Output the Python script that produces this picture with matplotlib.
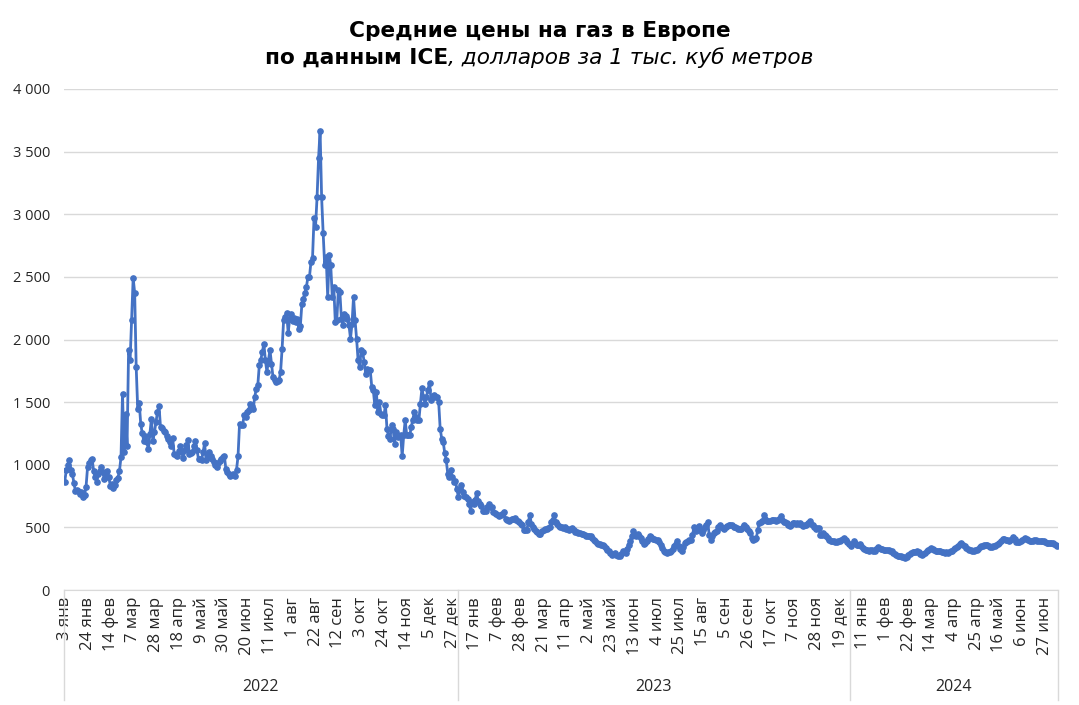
import matplotlib
matplotlib.use('Agg')
import matplotlib.pyplot as plt
from matplotlib.lines import Line2D
import pandas as pd

# daily ICE prices, USD per 1000 m3 (business days, one list per year, month by month)
values_2022 = [
    866, 957, 1000, 1037, 960, 925, 858, 790, 800, 790, 765, 780, 745, 760, 823, 980, 1010, 1037, 1045, 952, 900,
    866, 925, 950, 980, 940, 885, 900, 952, 900, 830, 850, 818, 840, 880, 898, 952, 1060, 1567, 1100, 1406,
    1152, 1915, 1834, 2155, 2490, 2374, 1780, 1447, 1492, 1326, 1250, 1193, 1233, 1180, 1126, 1246, 1366, 1193, 1260, 1340, 1420, 1473, 1300,
    1290, 1270, 1260, 1230, 1206, 1180, 1152, 1214, 1086, 1080, 1072, 1110, 1152, 1100, 1053, 1120, 1160, 1198, 1086, 1090, 1099,
    1150, 1193, 1120, 1045, 1045, 1037, 1100, 1171, 1037, 1060, 1099, 1070, 1045, 1020, 1000, 984, 1010, 1032, 1045, 1060, 1072, 965,
    940, 930, 912, 915, 930, 912, 960, 1067, 1328, 1320, 1314, 1394, 1380, 1420, 1434, 1488, 1470, 1448, 1541, 1608, 1634, 1794,
    1840, 1900, 1967, 1834, 1741, 1830, 1919, 1807, 1700, 1680, 1661, 1665, 1674, 1741, 1927, 2154, 2180, 2212, 2053, 2167, 2202,
    2149, 2170, 2140, 2160, 2087, 2106, 2282, 2327, 2370, 2420, 2500, 2500, 2620, 2647, 2967, 2900, 3135, 3452, 3668, 3135, 2852, 2594, 2660,
    2340, 2674, 2594, 2340, 2420, 2140, 2154, 2394, 2380, 2167, 2114, 2207, 2190, 2167, 2114, 2007, 2127, 2340, 2154, 2007, 1834, 1781,
    1914, 1900, 1820, 1727, 1767, 1760, 1754, 1621, 1594, 1474, 1581, 1421, 1501, 1408, 1400, 1394, 1474, 1288, 1230, 1208, 1314,
    1289, 1168, 1262, 1222, 1230, 1235, 1067, 1235, 1356, 1235, 1240, 1235, 1302, 1360, 1422, 1380, 1356, 1356, 1489, 1610, 1543, 1489,
    1543, 1600, 1655, 1516, 1540, 1556, 1543, 1543, 1503, 1289, 1209, 1182, 1094, 1035, 928, 901, 955, 901, 861, 874, 807,
]
values_2023 = [
    740, 807, 842, 781, 754, 740, 727, 690, 634, 700, 687, 720, 773, 714, 690, 674, 634, 634, 634, 660, 687, 660,
    660, 620, 615, 607, 600, 594, 600, 607, 620, 567, 560, 553, 560, 567, 570, 575, 560, 550, 540, 530,
    521, 479, 480, 479, 540, 602, 527, 500, 487, 475, 460, 450, 447, 473, 480, 487, 490, 495, 500, 540, 560, 602, 540,
    530, 513, 500, 505, 495, 500, 490, 485, 481, 490, 495, 480, 463, 460, 458, 455, 450, 445, 441, 435,
    432, 430, 428, 415, 401, 390, 375, 370, 365, 361, 361, 350, 335, 322, 308, 295, 281, 290, 295, 280, 268, 268, 290,
    308, 300, 295, 330, 361, 388, 430, 473, 440, 428, 447, 430, 415, 390, 367, 375, 388, 405, 428, 420, 409, 405,
    403, 401, 380, 361, 335, 313, 305, 295, 300, 305, 308, 330, 348, 370, 388, 348, 325, 308, 340, 375, 385,
    393, 398, 401, 440, 500, 468, 490, 508, 480, 455, 480, 500, 520, 543, 441, 401, 430, 455, 460, 468, 500, 521, 505,
    495, 489, 500, 508, 515, 520, 521, 505, 500, 495, 489, 489, 489, 500, 521, 505, 489, 470, 455, 415, 401,
    405, 415, 481, 535, 540, 553, 596, 570, 548, 550, 553, 555, 561, 555, 548, 560, 569, 588, 560, 543, 540, 535,
    520, 508, 520, 535, 535, 530, 535, 530, 535, 520, 508, 515, 521, 535, 548, 530, 516, 500, 489, 492, 495, 441,
    441, 455, 440, 428, 415, 401, 395, 393, 388, 383, 385, 388, 395, 401, 410, 415, 400, 383, 370,
]
values_2024 = [
    348, 370, 388, 375, 356, 360, 367, 350, 335, 330, 321, 318, 313, 318, 321, 315, 313, 325, 340, 335, 329, 325, 321,
    321, 321, 318, 315, 308, 295, 285, 281, 275, 268, 270, 265, 260, 255, 260, 281, 290, 295, 303, 300, 305,
    308, 300, 290, 281, 285, 295, 308, 320, 330, 335, 325, 318, 313, 315, 310, 308, 305, 300, 295, 300, 295,
    300, 308, 315, 325, 335, 340, 355, 365, 375, 360, 348, 335, 325, 321, 318, 313, 315, 318, 321, 330, 340, 348,
    355, 361, 358, 356, 350, 340, 345, 348, 350, 360, 370, 375, 390, 409, 405, 401, 398, 393, 400, 410, 420, 405, 383,
    383, 386, 388, 400, 410, 415, 408, 401, 395, 388, 395, 401, 398, 395, 393, 390, 388, 388, 385, 375,
    375, 378, 375, 372, 367, 360, 353,
]
years = ['2022', '2023', '2024']
months_ru = ['янв', 'фев', 'мар', 'апр', 'май', 'июн', 'июл', 'авг', 'сен', 'окт', 'ноя', 'дек']
holidays = ['2022-12-26', '2023-12-25', '2023-12-26']

title_line1 = "Средние цены на газ в Европе"
title_bold = "по данным ICE"
title_italic = ", долларов за 1 тыс. куб метров"

dates = pd.bdate_range('2022-01-03', '2024-07-09')
dates = dates[~dates.isin(pd.to_datetime(holidays))]
values = values_2022 + values_2023 + values_2024
n = len(dates)

W, H = 1079, 705
fig = plt.figure(figsize=(W / 100, H / 100), dpi=100)
ax = fig.add_axes([64 / W, 1 - 590 / H, (1058 - 64) / W, (590 - 89) / H])

blue = '#4472C4'
grid_c = '#D9D9D9'
ax.plot(range(len(values)), values, color=blue, lw=2.0, marker='o', ms=3.8, zorder=3)

ax.set_xlim(-0.5, n - 0.5)
ax.set_ylim(0, 4000)
ax.set_yticks(range(0, 4001, 500))
ax.set_yticklabels([f"{v:,}".replace(',', ' ') for v in range(0, 4001, 500)],
                   fontfamily='Open Sans', fontsize=10.5)
ax.grid(axis='y', color=grid_c, lw=1)
ax.set_axisbelow(True)
for s in ['top', 'left', 'right']:
    ax.spines[s].set_visible(False)
ax.spines['bottom'].set_color(grid_c)
ax.tick_params(axis='y', length=0, pad=10, colors='#262626')

tick_pos = list(range(0, n, 15))
ax.set_xticks(tick_pos)
ax.set_xticklabels([f"{dates[i].day} {months_ru[dates[i].month - 1]}" for i in tick_pos],
                   rotation=90, fontfamily='Open Sans', fontsize=12)
ax.tick_params(axis='x', length=0, pad=5, colors='#262626')

# year groups under the date labels
tr = ax.get_xaxis_transform()
bounds = [-0.5]
for y in years:
    cnt = sum(1 for d in dates if str(d.year) == y)
    bounds.append(bounds[-1] + cnt)
for x in bounds:
    ax.add_line(Line2D([x, x], [0, -0.22], transform=tr, color=grid_c, lw=1, clip_on=False))
for i, y in enumerate(years):
    ax.text((bounds[i] + bounds[i + 1]) / 2, -0.194, y, transform=tr, ha='center', va='center',
            fontfamily='Open Sans', fontsize=11.5, color='#262626')

# title: first line bold, second line bold + italic
r = fig.canvas.get_renderer()
fs = 15
t1 = fig.text(0.5, 1 - 31 / H, title_line1, ha='center', va='center', fontsize=fs, fontweight='bold')
w1 = t1.get_window_extent(r).width
fs = fs * 383 / w1
t1.set_fontsize(fs)
ta = fig.text(0, 1 - 58 / H, title_bold, ha='left', va='center', fontsize=fs, fontweight='bold')
tb = fig.text(0, 1 - 58 / H, title_italic, ha='left', va='center', fontsize=fs, fontstyle='italic')
wa = ta.get_window_extent(r).width
wb = tb.get_window_extent(r).width
x0 = (W - wa - wb) / 2
ta.set_x(x0 / W)
tb.set_x((x0 + wa) / W)

fig.savefig('out.png', dpi=100)
